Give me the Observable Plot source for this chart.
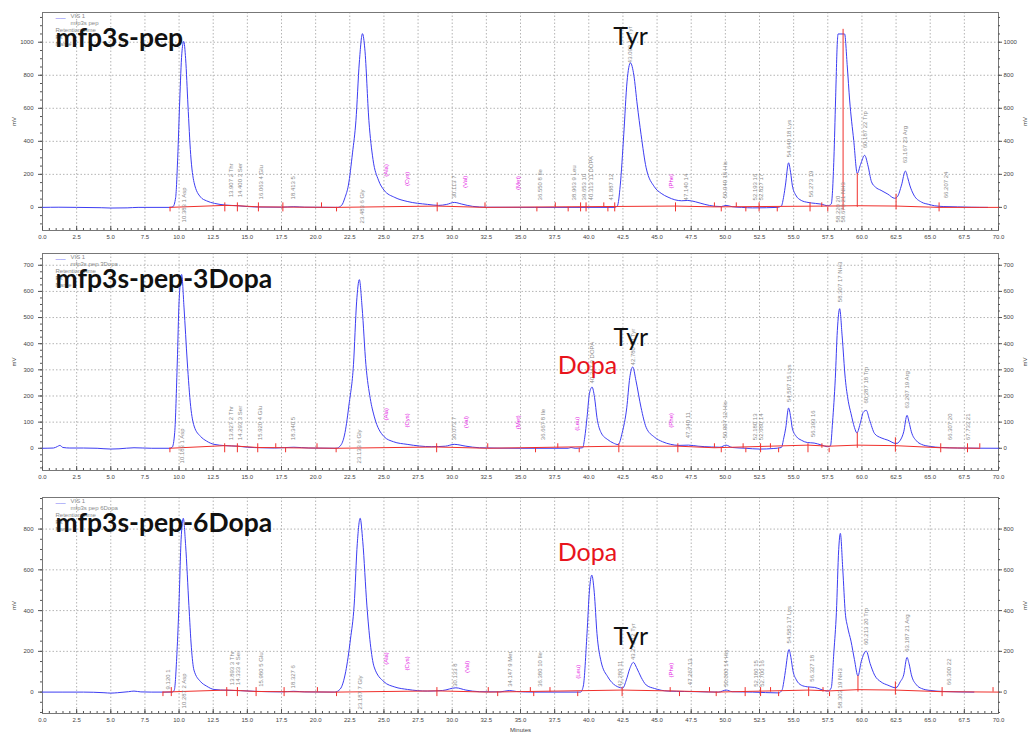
<!DOCTYPE html>
<html><head><meta charset="utf-8">
<script src="https://cdn.jsdelivr.net/npm/d3@7"></script>
<script src="https://cdn.jsdelivr.net/npm/@observablehq/plot@0.6"></script>
<style>
body{margin:0;background:#fff;}
#chart svg{display:block;}
</style></head><body><div id="chart"></div>
<script>
// ---------- DATA ----------
const titles = ["mfp3s-pep", "mfp3s-pep-3Dopa", "mfp3s-pep-6Dopa"];
const sampleNames = ["mfp3s pep", "mfp3s pep 3Dopa", "mfp3s pep 6Dopa"];
const xTickLabels = d3.range(0, 70.001, 2.5);
const yTicks1 = [0, 200, 400, 600, 800, 1000];
const yTicks2 = [0, 100, 200, 300, 400, 500, 600, 700];
const yTicks3 = [0, 200, 400, 600, 800];

// chromatogram traces [minutes, mV]
const trace1 = [[0,0],[1.2,1],[2.5,0],[4.3,-2],[5.0,-4],[6.2,-3],[7.0,0],[9.3,0],[9.55,4],[9.75,60],[9.9,300],[10.05,650],[10.2,930],[10.34,1005],[10.48,900],[10.65,620],[10.85,320],[11.1,150],[11.58,62],[12.0,40],[12.6,24],[13.4,14],[14.3,10],[15.0,5],[16.0,2],[17.5,1],[18.4,4],[19.2,1],[21.6,0],[21.9,12],[22.15,60],[22.4,135],[22.7,330],[22.95,525],[23.2,880],[23.43,1052],[23.6,960],[23.9,525],[24.2,290],[24.6,165],[25.0,105],[25.8,60],[26.7,36],[28.2,18],[29.0,12],[29.6,18],[30.15,30],[30.7,20],[31.5,6],[32.5,1],[36.0,0],[41.9,0],[42.1,10],[42.3,130],[42.56,440],[42.8,760],[43.05,875],[43.3,800],[43.55,620],[43.83,440],[44.2,240],[44.8,125],[45.3,85],[45.8,62],[46.3,46],[46.8,40],[47.25,42],[47.8,34],[48.5,18],[49.2,7],[49.7,5],[50.05,12],[50.5,4],[51.2,0],[52.0,-3],[53.0,-2],[53.8,0],[54.1,8],[54.28,70],[54.4,135],[54.63,270],[54.78,210],[54.9,135],[55.15,75],[55.56,42],[56.05,30],[56.6,24],[57.0,20],[57.5,10],[57.75,20],[57.95,300],[58.07,650],[58.2,1000],[58.25,1050],[58.73,1050],[58.93,850],[59.1,650],[59.4,405],[59.66,205],[59.9,260],[60.2,315],[60.45,250],[60.7,155],[61.0,122],[61.4,103],[61.9,80],[62.4,55],[62.6,65],[62.9,135],[63.18,220],[63.35,180],[63.5,135],[63.8,75],[64.36,32],[64.9,18],[65.3,10],[66.0,5],[67.0,3],[68.0,1],[69.2,0]];
const trace2 = [[0,0],[0.8,1],[1.1,7],[1.27,11],[1.5,3],[2.0,1],[3.0,1],[4.0,0],[5.0,-3],[5.6,-2],[6.7,2],[8.0,0],[9.3,0],[9.5,4],[9.68,60],[9.87,330],[10.0,560],[10.19,665],[10.36,540],[10.6,330],[10.85,160],[11.1,85],[11.58,45],[12.0,28],[12.56,15],[13.4,10],[14.3,8],[15.0,4],[16.0,2],[17.0,1],[18.4,4],[19.5,1],[21.5,0],[21.85,12],[22.15,60],[22.45,170],[22.77,320],[23.0,560],[23.2,645],[23.4,540],[23.68,320],[24.0,190],[24.3,120],[25.0,45],[25.7,25],[26.7,15],[28.5,6],[29.5,8],[30.15,15],[31.0,8],[32.0,2],[35.0,0],[38.5,0],[38.7,3],[39.0,0],[39.55,2],[39.7,40],[39.87,117],[40.05,210],[40.24,234],[40.42,195],[40.6,117],[40.9,60],[41.39,33],[41.8,20],[42.15,14],[42.45,60],[42.78,155],[43.0,270],[43.22,311],[43.45,260],[43.83,155],[44.2,80],[44.8,43],[45.4,25],[46.0,15],[46.6,11],[47.3,12],[48.0,8],[49.0,5],[49.6,4],[50.05,12],[50.5,3],[51.5,0],[52.5,-3],[53.5,-1],[54.1,3],[54.28,40],[54.42,77],[54.63,154],[54.78,120],[54.9,77],[55.2,45],[55.56,31],[56.0,22],[56.5,20],[57.0,13],[57.5,6],[57.7,10],[57.85,100],[58.05,267],[58.2,450],[58.37,534],[58.55,430],[58.78,267],[59.0,180],[59.2,133],[59.45,80],[59.63,59],[59.9,100],[60.1,138],[60.32,145],[60.55,110],[60.93,56],[61.4,40],[61.9,31],[62.5,18],[62.8,30],[63.06,63],[63.3,126],[63.45,100],[63.62,63],[64.0,28],[64.36,15],[65.0,7],[65.8,3],[67.0,1],[70.0,0]];
const trace3 = [[0,0],[3.0,0],[4.5,-3],[5.0,-5],[5.5,-3],[6.3,2],[6.7,5],[7.2,1],[8.0,0],[9.5,0],[9.65,10],[9.85,200],[9.99,425],[10.15,750],[10.31,853],[10.48,720],[10.72,425],[10.9,220],[11.09,108],[11.58,51],[12.0,30],[12.56,13],[13.5,9],[14.5,7],[15.5,4],[16.5,2],[17.5,1],[18.4,4],[19.2,1],[21.4,0],[21.8,15],[22.2,100],[22.55,260],[22.82,427],[23.05,730],[23.26,853],[23.45,740],[23.75,427],[24.0,240],[24.28,124],[25.0,51],[25.8,25],[26.73,13],[28.2,5],[29.3,8],[30.27,21],[31.0,10],[32.0,2],[33.5,1],[34.18,8],[34.7,3],[36.0,0],[39.4,0],[39.6,30],[39.87,287],[40.05,500],[40.22,574],[40.4,490],[40.6,287],[40.9,150],[41.39,75],[41.8,40],[42.12,26],[42.49,20],[42.75,60],[43.0,115],[43.27,146],[43.5,120],[43.83,73],[44.2,35],[44.8,18],[45.8,5],[47.0,3],[48.0,2],[49.5,0],[50.06,10],[50.5,2],[52.0,0],[53.9,-4],[54.15,10],[54.3,60],[54.4,105],[54.66,209],[54.8,170],[54.95,105],[55.2,60],[55.56,34],[56.0,26],[56.54,23],[57.0,13],[57.5,5],[57.75,20],[57.95,200],[58.13,390],[58.3,700],[58.42,779],[58.6,600],[58.78,390],[58.95,320],[59.2,250],[59.45,160],[59.71,79],[59.95,150],[60.32,201],[60.6,140],[60.93,83],[61.4,50],[61.9,34],[62.5,21],[62.8,50],[63.06,85],[63.3,170],[63.45,140],[63.62,85],[64.0,35],[64.36,18],[65.0,8],[66.0,3],[68.2,0]];

// integration baselines [minutes, mV]
const base1 = [[9.3,0],[13.35,12],[14.27,10],[15.8,3],[21.5,0],[28.9,8],[32.4,0],[46.35,8],[49.2,3],[57.5,8],[59.66,10],[62.5,8],[65.65,0],[70,0]];
const base2 = [[9.3,0],[13.34,10],[14.27,8],[15.76,3],[21.5,0],[28.86,5],[32.6,0],[42.2,8],[46.52,8],[49.2,2],[56.05,12],[57.6,8],[59.66,12],[62.45,10],[65.77,2],[68.63,0]];
const base3 = [[8.82,0],[13.49,10],[14.27,8],[15.64,3],[21.5,0],[28.88,6],[32.64,0],[42.44,10],[46.64,5],[49.33,0],[56.1,10],[57.63,6],[59.71,12],[62.45,10],[65.87,2],[70,0]];

// peak start/stop marks [minutes, u=up d=down b=both]
const marks1 = [[9.34,"d"],[13.35,"b"],[14.27,"b"],[15.81,"b"],[17.6,"b"],[20.43,"u"],[21.53,"d"],[28.9,"b"],[32.4,"u"],[36.2,"d"],[37.55,"u"],[38.49,"d"],[39.4,"b"],[39.8,"b"],[41.1,"u"],[41.4,"d"],[41.9,"b"],[46.35,"b"],[49.2,"u"],[49.7,"d"],[50.8,"u"],[51.5,"d"],[52.47,"b"],[53.8,"d"],[56.2,"b"],[57.06,"u"],[57.5,"d"],[65.65,"b"]];
const marks2 = [[9.33,"d"],[13.34,"b"],[14.27,"b"],[15.76,"b"],[17.08,"u"],[17.8,"d"],[20.1,"u"],[21.5,"d"],[28.86,"b"],[32.6,"u"],[36.1,"d"],[37.73,"u"],[39.3,"d"],[42.2,"b"],[46.52,"b"],[49.2,"u"],[49.7,"d"],[51.3,"u"],[51.5,"d"],[52.58,"b"],[53.3,"u"],[53.9,"d"],[56.05,"b"],[57.07,"u"],[57.6,"d"],[65.77,"b"],[67.73,"b"],[68.63,"u"]];
const marks3 = [[8.82,"d"],[9.43,"b"],[13.49,"b"],[14.27,"b"],[15.64,"b"],[17.69,"b"],[20.13,"u"],[21.53,"d"],[28.88,"b"],[32.64,"u"],[33.33,"d"],[35.72,"u"],[35.97,"d"],[37.16,"u"],[39.19,"d"],[42.44,"b"],[45.96,"u"],[46.64,"d"],[48.84,"u"],[49.33,"d"],[51.45,"b"],[52.58,"b"],[53.31,"u"],[53.9,"d"],[56.1,"b"],[57.15,"u"],[57.63,"d"],[65.87,"b"],[69.6,"u"]];

// peak split lines [minutes, mV from, mV to]
const splits1 = [[58.62,-20,1078],[59.66,0,205],[62.5,-15,80]];
const splits2 = [[59.66,0,59],[62.45,-15,40]];
const splits3 = [[59.71,0,79],[62.45,-15,50]];

// peak labels [text, minutes, mV where text starts]
const peaks1 = [["10.383 1 Asp",10.4,-91],["13.907 2 Thr",13.78,61],["14.400 3 Ser",14.46,61],["16.063 4 Glu",15.98,48],["18.413 5",18.38,48],["23.483 6 Gly",23.43,-97],["30.113 7",30.15,55],["36.550 8 Ile",36.45,42],["38.963 9 Leu",38.95,42],["39.653 10",39.63,42],["40.313 11 DOPA",40.17,42],["41.887 12",41.63,42],["43.093 13 Tyr",43.05,873],["47.140 14",47.13,42],["50.040 15 His",50.0,55],["52.193 16",52.19,42],["52.827 17",52.63,42],["54.640 18 Lys",54.63,303],["56.273 19",56.29,61],["58.220 20",58.25,-91],["58.673 21 NH3",58.6,-91],["60.187 22 Trp",60.2,358],["63.167 23 Arg",63.18,267],["66.207 24",66.18,55]];
const peaks2 = [["10.183 1 Asp",10.19,-58],["13.827 2 Thr",13.78,31],["14.293 3 Ser",14.46,31],["15.920 4 Glu",15.93,31],["18.340 5",18.38,31],["23.133 6 Gly",23.19,-58],["30.073 7",30.15,31],["36.667 8 Ile",36.63,31],["40.247 9 DOPA",40.24,248],["42.780 10 Tyr",43.22,317],["47.340 11",47.25,38],["50.007 12 His",50.0,38],["52.180 13",52.19,31],["52.680 14",52.63,31],["54.587 15 Lys",54.63,177],["56.393 16",56.4,43],["58.307 17 NH3",58.37,559],["60.287 18 Trp",60.32,171],["63.207 19 Arg",63.3,152],["66.307 20",66.43,31],["67.733 21",67.78,31]];
const peaks3 = [["9.120 1",9.21,13],["10.287 2 Asp",10.36,-80],["13.893 3 Thr",13.9,34],["14.333 4 Ser",14.35,34],["15.980 5 Glu",16.03,26],["18.327 6",18.38,18],["23.187 7 Gly",23.26,-85],["30.133 8",30.2,26],["34.147 9 Met",34.25,26],["36.380 10 Ile",36.45,26],["42.280 11",42.32,26],["43.273 12 Tyr",43.27,157],["47.267 13",47.4,34],["50.000 14 His",50.06,26],["52.180 15",52.25,26],["52.700 16",52.66,26],["54.583 17 Lys",54.63,239],["56.327 18",56.37,51],["58.303 19 NH3",58.42,-80],["60.213 20 Trp",60.32,231],["63.187 21 Arg",63.33,198],["66.300 22",66.36,34]];

// expected (missing) amino acids [text, minutes, mV centre]
const expected1 = [["(Ala)",25.14,224],["(Cys)",26.68,173],["(Val)",30.93,155],["(Met)",34.8,148],["(Phe)",46.03,158]];
const expected2 = [["(Ala)",25.14,130],["(Cys)",26.73,107],["(Val)",31.0,100],["(Met)",34.8,100],["(Leu)",39.12,94],["(Phe)",46.03,107]];
const expected3 = [["(Ala)",25.14,165],["(Cys)",26.73,141],["(Val)",31.08,124],["(Leu)",39.19,100],["(Phe)",46.03,108]];

// big annotations [text, minutes, mV baseline, colour key]
const notes1 = [["Tyr",43.05,986,"k"]];
const notes2 = [["Dopa",39.9,285,"r"],["Tyr",43.08,390,"k"]];
const notes3 = [["Dopa",39.9,643,"r"],["Tyr",43.08,231,"k"]];

// ---------- DRAWING ----------
const BLUE = "#3d3df2", RED = "#f0302c", GREY = "#8a8a8a", MAG = "#e31ee3";
const W = 1028, ML = 42, MR = 30;
const tPerPx = 70 / (W - ML - MR);

function panel(o) {
  const mvPerPx = (o.yDomain[1] - o.yDomain[0]) / (o.height - o.marginTop - o.marginBottom);
  const L = 4.5 * mvPerPx;
  const y0 = o.yDomain[0];
  const xMinor = d3.range(0, 70.001, 0.5);
  const yMinor = d3.range(Math.ceil(o.yDomain[0] / o.yMinorStep) * o.yMinorStep, o.yDomain[1], o.yMinorStep);
  const marks = [
    Plot.gridX(xTickLabels.filter(v => v > 0 && v < 70), {stroke: "#b4b4b4", strokeOpacity: 1, strokeDasharray: "1.5,2"}),
    Plot.gridY(o.yTicks.filter(v => v > 0), {stroke: "#b4b4b4", strokeOpacity: 1, strokeDasharray: "1.5,2"}),
    Plot.frame({stroke: "#777"}),
    // x ticks (inward)
    Plot.ruleX(xMinor, {y1: y0, y2: y0 + 2 * mvPerPx, stroke: "#555"}),
    Plot.ruleX(xTickLabels, {y1: y0, y2: y0 + 4 * mvPerPx, stroke: "#555"}),
    // y ticks (outward) left and right
    Plot.ruleY(yMinor, {x1: -2 * tPerPx, x2: 0, stroke: "#555"}),
    Plot.ruleY(o.yTicks, {x1: -4 * tPerPx, x2: 0, stroke: "#555"}),
    Plot.ruleY(yMinor, {x1: 70, x2: 70 + 2 * tPerPx, stroke: "#555"}),
    Plot.ruleY(o.yTicks, {x1: 70, x2: 70 + 4 * tPerPx, stroke: "#555"}),
    Plot.axisX(xTickLabels, {tickSize: 0, tickPadding: 4, tickFormat: d3.format(".1f"), fontSize: 6, label: null}),
    Plot.axisY(o.yTicks, {anchor: "left", tickSize: 0, tickPadding: 9, tickFormat: d3.format("d"), fontSize: 6, label: null}),
    Plot.axisY(o.yTicks, {anchor: "right", tickSize: 0, tickPadding: 5, tickFormat: d3.format("d"), fontSize: 6, label: null}),
    Plot.text(["mV"], {frameAnchor: "left", dx: -28, rotate: -90, textAnchor: "middle", fontSize: 6, fill: "#444"}),
    Plot.text(["mV"], {frameAnchor: "right", dx: 27, rotate: -90, textAnchor: "middle", fontSize: 6, fill: "#444"}),
    // legend
    Plot.text(["VIS 1\n" + o.sample], {frameAnchor: "top-left", dx: 28, dy: 0, lineAnchor: "top", lineHeight: 1.2, fontSize: 6, fill: GREY}),
    Plot.text(["Retention Time\nPk\nName"], {frameAnchor: "top-left", dx: 13, dy: 14, lineAnchor: "top", lineHeight: 1.2, fontSize: 6, fill: GREY}),
    Plot.text(["——"], {frameAnchor: "top-left", dx: 13, dy: 4, lineAnchor: "top", fontSize: 5, fill: BLUE}),
    // trace
    Plot.line(o.trace, {x: d => d[0], y: d => d[1], stroke: BLUE, strokeWidth: 1, curve: "monotone-x"}),
    Plot.line(o.base, {x: d => d[0], y: d => d[1], stroke: RED, strokeWidth: 1}),
    Plot.ruleX(o.pk, {x: d => d[0], y1: d => d[1] === "u" ? 0 : -L, y2: d => d[1] === "d" ? 0 : L, stroke: RED}),
    Plot.ruleX(o.splits, {x: d => d[0], y1: d => d[1], y2: d => d[2], stroke: RED}),
    // labels
    Plot.text(o.peaks, {x: d => d[1], y: d => d[2], text: d => d[0], rotate: -90, textAnchor: "start", lineAnchor: "middle", fontSize: 6, fill: GREY}),
    Plot.text(o.expected, {x: d => d[1], y: d => d[2], text: d => d[0], rotate: -90, textAnchor: "middle", lineAnchor: "middle", fontSize: 6, fill: MAG}),
    Plot.text([o.title], {frameAnchor: "top-left", dx: 13, dy: 34, lineAnchor: "bottom", textAnchor: "start", fontSize: 26.5, fontWeight: "bold", fontFamily: "Lato", fill: "#111"}),
    Plot.text(o.notes, {x: d => d[1], y: d => d[2], text: d => d[0], lineAnchor: "bottom", textAnchor: "middle", fontSize: 25, fontFamily: "Lato", fill: d => d[3] === "r" ? "#e8141c" : "#111"})
  ];
  if (o.minutes) marks.push(Plot.text(["Minutes"], {frameAnchor: "bottom", dy: 17, textAnchor: "middle", lineAnchor: "middle", fontSize: 6, fill: "#444"}));
  return Plot.plot({
    width: W, height: o.height,
    marginTop: o.marginTop, marginBottom: o.marginBottom, marginLeft: ML, marginRight: MR,
    x: {domain: [0, 70]},
    y: {domain: o.yDomain},
    style: {fontFamily: "'Liberation Sans', Arial, sans-serif", fontSize: "6px", color: "#444", background: "#fff", overflow: "visible"},
    marks
  });
}

const chart = document.getElementById("chart");
chart.append(panel({height: 240, marginTop: 12, marginBottom: 10, yDomain: [-140, 1180], yTicks: yTicks1, yMinorStep: 50,
  trace: trace1, base: base1, pk: marks1, splits: splits1, peaks: peaks1, expected: expected1, notes: notes1, title: titles[0], sample: sampleNames[0]}));
chart.append(panel({height: 250, marginTop: 13, marginBottom: 20, yDomain: [-85, 745], yTicks: yTicks2, yMinorStep: 25,
  trace: trace2, base: base2, pk: marks2, splits: splits2, peaks: peaks2, expected: expected2, notes: notes2, title: titles[1], sample: sampleNames[1]}));
chart.append(panel({height: 243, marginTop: 7, marginBottom: 20, yDomain: [-105, 955], yTicks: yTicks3, yMinorStep: 50,
  trace: trace3, base: base3, pk: marks3, splits: splits3, peaks: peaks3, expected: expected3, notes: notes3, title: titles[2], sample: sampleNames[2], minutes: true}));
</script></body></html>
